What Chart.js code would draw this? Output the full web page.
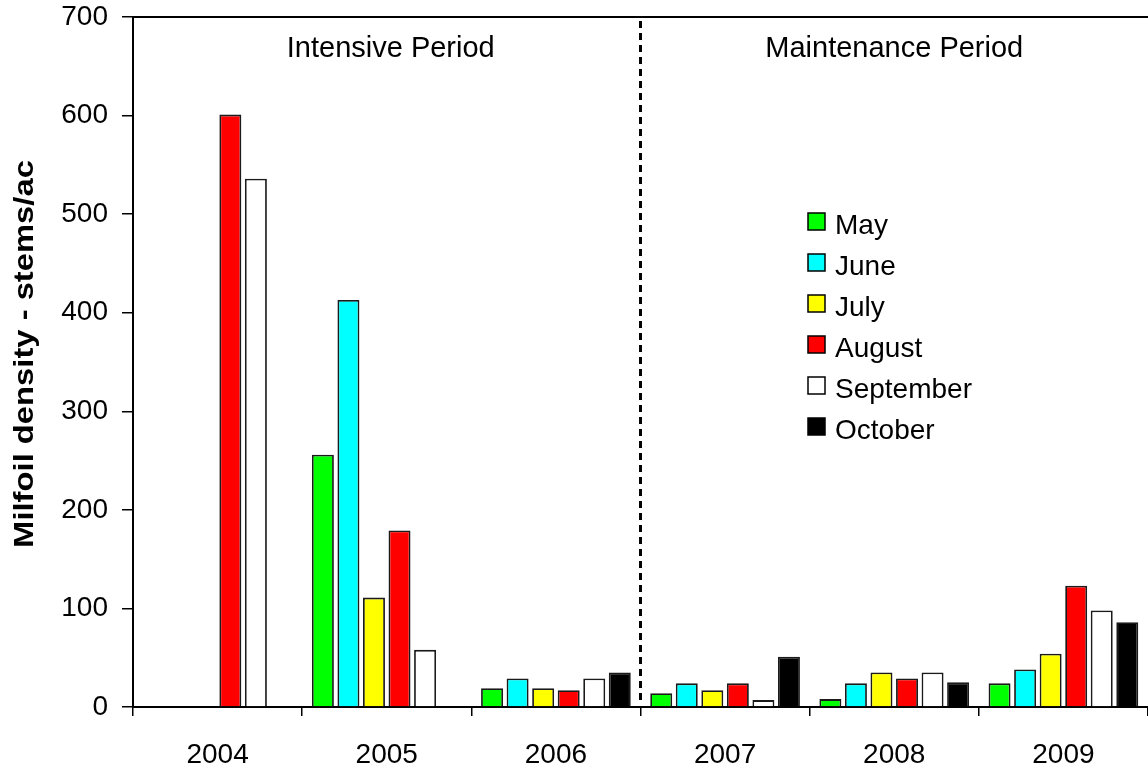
<!DOCTYPE html>
<html>
<head>
<meta charset="utf-8">
<script src="https://cdn.jsdelivr.net/npm/chart.js@4.4.1/dist/chart.umd.min.js"></script>
<style>
html,body{margin:0;padding:0;background:#fff;}
#c{display:block;}
</style>
</head>
<body>
<canvas id="c" width="1148" height="769"></canvas>
<script>
const years = ['2004', '2005', '2006', '2007', '2008', '2009'];
const monthNames = ['May', 'June', 'July', 'August', 'September', 'October'];
const mayVals = [null, 256, 19, 14, 8, 24];
const juneVals = [null, 413, 29, 24, 24, 38];
const julyVals = [null, 111, 19, 17, 35, 54];
const augustVals = [601, 179, 17, 24, 29, 123];
const septemberVals = [536, 58, 29, 7, 35, 98];
const octoberVals = [null, null, 35, 51, 25, 86];
const yTicks = [0, 100, 200, 300, 400, 500, 600, 700];
const periodLabels = ['Intensive Period', 'Maintenance Period'];
const yTitle = 'Milfoil density - stems/ac';

const colors = ['#00ff00', '#00ffff', '#ffff00', '#ff0000', '#ffffff', '#000000'];
const seriesVals = [mayVals, juneVals, julyVals, augustVals, septemberVals, octoberVals];

const FONT = "'Liberation Sans', Arial, sans-serif";

const datasets = monthNames.map((m, i) => ({
  label: m,
  data: seriesVals[i],
  backgroundColor: colors[i],
  borderColor: '#1a1a1a',
  borderWidth: 1.8,
  categoryPercentage: 0.906,
  barPercentage: 0.86
}));

const overlay = {
  id: 'overlay',
  afterDraw(chart) {
    const ctx = chart.ctx;
    const ca = chart.chartArea;
    const xs = chart.scales.x;
    ctx.save();
    // top border
    ctx.strokeStyle = '#000';
    ctx.lineWidth = 2;
    ctx.beginPath();
    ctx.moveTo(ca.left - 1, ca.top);
    ctx.lineTo(ca.right, ca.top);
    ctx.stroke();
    // dashed divider between 2006 and 2007
    const xd = xs.getPixelForValue(2.5);
    ctx.lineWidth = 3;
    ctx.setLineDash([7, 5]);
    ctx.beginPath();
    ctx.moveTo(xd, ca.top + 4);
    ctx.lineTo(xd, ca.bottom - 2);
    ctx.stroke();
    ctx.setLineDash([]);
    // period labels
    ctx.fillStyle = '#000';
    ctx.font = '29px ' + FONT;
    ctx.textAlign = 'center';
    ctx.textBaseline = 'alphabetic';
    const x0 = xs.getPixelForValue(-0.5);
    const x6 = xs.getPixelForValue(5.5);
    ctx.fillText(periodLabels[0], (x0 + xd) / 2 + 4, ca.top + 40);
    ctx.fillText(periodLabels[1], (xd + x6) / 2, ca.top + 40);
    // legend
    ctx.font = '28px ' + FONT;
    ctx.textAlign = 'left';
    ctx.textBaseline = 'alphabetic';
    chart.data.datasets.forEach((ds, i) => {
      const yc = 221.5 + 41 * i;
      ctx.fillStyle = ds.backgroundColor;
      ctx.fillRect(808, yc - 8.5, 17, 17);
      ctx.strokeStyle = '#000';
      ctx.lineWidth = 1.5;
      ctx.strokeRect(808, yc - 8.5, 17, 17);
      ctx.fillStyle = '#000';
      ctx.fillText(ds.label, 835, yc + 12.5);
    });
    // y axis title (stretched along its length like the reference)
    ctx.save();
    ctx.translate(25, 354);
    ctx.rotate(-Math.PI / 2);
    ctx.scale(1.17, 1);
    ctx.font = 'bold 28px ' + FONT;
    ctx.textAlign = 'center';
    ctx.textBaseline = 'middle';
    ctx.fillText(yTitle, 0, 0);
    ctx.restore();
    ctx.restore();
  }
};

new Chart(document.getElementById('c'), {
  type: 'bar',
  data: { labels: years, datasets },
  options: {
    responsive: false,
    devicePixelRatio: 1,
    animation: false,
    layout: { padding: { top: 17, right: 0, left: 0, bottom: 0 } },
    plugins: { legend: { display: false }, tooltip: { enabled: false } },
    scales: {
      x: {
        grid: { offset: true, drawOnChartArea: false, drawTicks: true, tickLength: 9, color: '#000', lineWidth: 1.5 },
        border: { display: true, color: '#000', width: 2 },
        ticks: { color: '#000', font: { family: FONT, size: 28 }, padding: 22, maxRotation: 0 },
        afterFit(s) { s.height = 62; s.paddingLeft = 0; s.paddingRight = 0; }
      },
      y: {
        min: 0, max: 700,
        afterBuildTicks(s) { s.ticks = yTicks.map(v => ({ value: v })); },
        grid: { drawOnChartArea: false, drawTicks: true, tickLength: 11, color: '#000', lineWidth: 1.5 },
        border: { display: true, color: '#000', width: 2 },
        ticks: { color: '#000', font: { family: FONT, size: 28 }, padding: 14 },
        afterFit(s) { s.width = 133; s.paddingTop = 0; s.paddingBottom = 0; }
      }
    }
  },
  plugins: [overlay]
});
</script>
</body>
</html>
